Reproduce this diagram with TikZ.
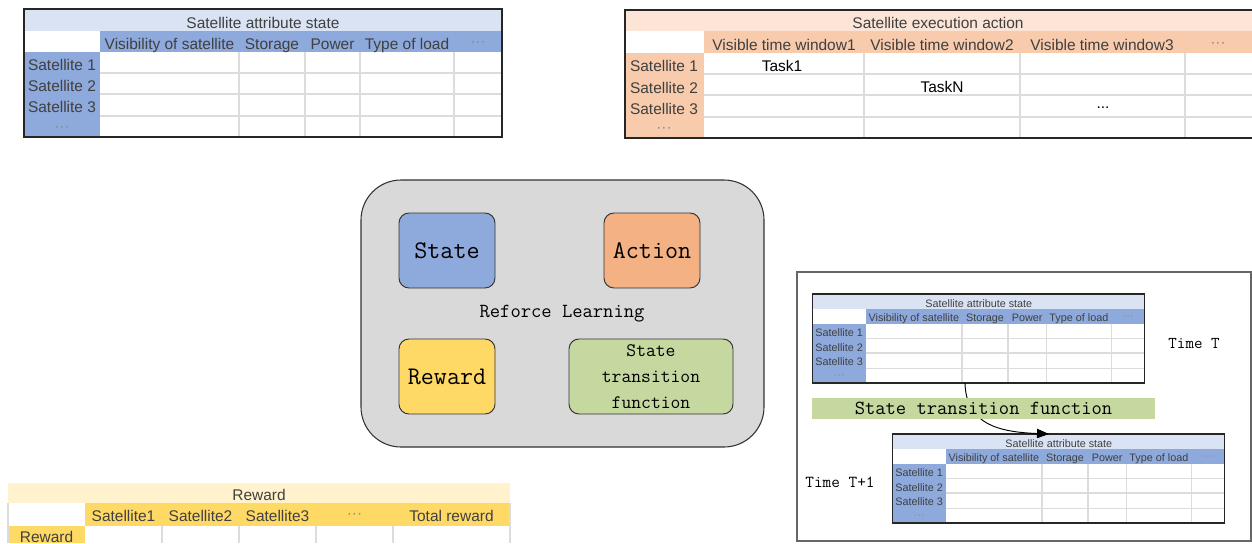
\documentclass[tikz,border=0pt]{standalone}
\usepackage{fontspec}
\setmainfont{Liberation Sans}
\newcommand\monof{\ttfamily}
\usetikzlibrary{arrows.meta}
\definecolor{attrtitle}{HTML}{DAE3F3}
\definecolor{attrhead}{HTML}{8EA9DB}
\definecolor{acttitle}{HTML}{FCE4D6}
\definecolor{acthead}{HTML}{F8CBAD}
\definecolor{actbox}{HTML}{F4B183}
\definecolor{rewtitle}{HTML}{FFF2CC}
\definecolor{rewhead}{HTML}{FFD966}
\definecolor{greenbox}{RGB}{197,216,160}
\definecolor{rlgray}{HTML}{D9D9D9}
\definecolor{gridgray}{HTML}{DCDCDC}
\definecolor{tabtext}{HTML}{404040}
\tikzset{
  gridline/.style={draw=gridgray,line width=1.1pt},
  tabborder/.style={draw=black!85,line width=0.8pt},
  celltext/.style={text=tabtext,inner sep=0pt,anchor=center,text height=0.716em,text depth=0pt},
  rlbox/.style={draw=black!80,line width=0.7pt,rounded corners=7.5pt},
  mono/.style={font=\monof,inner sep=0pt,anchor=center},
}
% attribute table drawn in local pixel units (478 x 128)
\newcommand\attrtable[3]{%
  \begin{scope}[shift={#1},scale=#2,every node/.append style={celltext,#3}]
    \fill[attrtitle] (0,0) rectangle (478,22);
    \fill[attrhead] (76,22) rectangle (478,43);
    \fill[attrhead] (0,43) rectangle (76,128);
    \foreach \xx in {215,281,336,430} \draw[gridline] (\xx,43) -- (\xx,128);
    \foreach \yy in {64,85,107} \draw[gridline] (76,\yy) -- (478,\yy);
    \draw[tabborder] (0,0) rectangle (478,128);
    \node at (239,12) {Satellite attribute state};
    \node at (145.5,33) {Visibility of satellite};
    \node at (248,33) {Storage};
    \node at (308.5,33) {Power};
    \node at (383,33) {Type of load};
    \node[text=black!45] at (454,30) {···};
    \node at (38,54.5) {Satellite 1};
    \node at (38,75.5) {Satellite 2};
    \node at (38,96.5) {Satellite 3};
    \node[text=black!45] at (38,115) {···};
  \end{scope}}
\begin{document}
\begin{tikzpicture}[x=0.75pt,y=-0.75pt]
\useasboundingbox (0,0) rectangle (1252,543);
\fill[white] (0,0) rectangle (1252,543);

% ---------- Table 1: satellite attribute state ----------
\attrtable{(24,9)}{1}{font=\fontsize{11.6}{13}\selectfont,yshift=-1.9pt}

% ---------- Table 2: satellite execution action ----------
\fill[acttitle] (625,10) rectangle (1252,31);
\fill[acthead] (704,31) rectangle (1252,53);
\fill[acthead] (625,53) rectangle (704,138);
\foreach \xx in {864,1020,1185} \draw[gridline] (\xx,53) -- (\xx,138);
\foreach \yy in {74,95,117} \draw[gridline] (704,\yy) -- (1252,\yy);
\draw[tabborder] (1252,10) -- (625,10) -- (625,138) -- (1252,138);
\begin{scope}[every node/.style={celltext,font=\fontsize{11.6}{13}\selectfont,yshift=-1.9pt}]
\node (acttitle) at (938,21) {Satellite execution action};
\node (w1) at (784,43) {Visible time window1};
\node (w2) at (942,43) {Visible time window2};
\node (w3) at (1102,43) {Visible time window3};
\node[text=black!45] (w4) at (1218,40) {···};
\node (s1) at (664,64.5) {Satellite 1};
\node (s2) at (664,86) {Satellite 2};
\node (s3) at (664,107) {Satellite 3};
\node[text=black!45] (s4) at (664,125) {···};
\node[text=black] (t1) at (782,64) {Task1};
\node[text=black] (tn) at (942,85) {TaskN};
\node[text=black] (td) at (1103,101) {...};
\end{scope}

% ---------- Reinforcement learning block ----------
\draw[fill=rlgray,draw=black!80,line width=0.8pt,rounded corners=30pt] (361,180) rectangle (764,447);
\node[rlbox,fill=attrhead,minimum width=72pt,minimum height=56.25pt,font=\monof\fontsize{19}{21}\selectfont,inner sep=0pt] (state) at (447,250.5) {State};
\node[rlbox,fill=actbox,minimum width=72pt,minimum height=56.25pt,font=\monof\fontsize{19}{21}\selectfont,inner sep=0pt] (action) at (652,250.5) {Action};
\node[rlbox,fill=rewhead,minimum width=72pt,minimum height=56.25pt,font=\monof\fontsize{19}{21}\selectfont,inner sep=0pt] (reward) at (447,376.5) {Reward};
\node[rlbox,fill=greenbox,minimum width=123pt,minimum height=56.25pt,align=center,font=\monof\fontsize{14.3}{19.5}\selectfont,inner sep=0pt] (stf) at (651,376.5) {State\\transition\\function};
\node[mono,font=\monof\fontsize{15}{17}\selectfont] (rl) at (562,314) {Reforce Learning};

% ---------- Reward table ----------
\fill[rewtitle] (8,483) rectangle (510,503);
\fill[rewhead] (85,503) rectangle (510,526);
\fill[rewhead] (8,526) rectangle (85,543);
\foreach \xx in {162,239,316,393} \draw[gridline] (\xx,526) -- (\xx,543);
\draw[gridline] (8,503) -- (8,543);
\draw[gridline] (510,503) -- (510,543);
\begin{scope}[every node/.style={celltext,font=\fontsize{11.6}{13}\selectfont,yshift=-1.5pt}]
\node (rtitle) at (259,493.5) {Reward};
\node (r1) at (123.5,515) {Satellite1};
\node (r2) at (200.5,515) {Satellite2};
\node (r3) at (277.5,515) {Satellite3};
\node[text=black!45] (r4) at (354.5,512) {···};
\node (r5) at (451.5,515) {Total reward};
\node (rr) at (46.5,536) {Reward};
\end{scope}

% ---------- State transition panel ----------
\draw[draw=black!60,line width=0.8pt] (797,272) rectangle (1251,541);
\attrtable{(812.7,294)}{0.695}{font=\fontsize{8.1}{9}\selectfont}
\attrtable{(892.7,434)}{0.695}{font=\fontsize{8.1}{9}\selectfont}
\coordinate (tabTbot) at (965,383);
\coordinate (tabT1top) at (1049,434);
\draw[-{Triangle[length=9pt,width=7pt]},line width=0.7pt] (tabTbot) .. controls (966,425) and (1000,432) .. (tabT1top);
\fill[greenbox] (812,398) rectangle (1155,419);
\node[mono,font=\monof\fontsize{15}{17}\selectfont] (stfbar) at (983.5,408.5) {State transition function};
\node[mono,font=\monof\fontsize{12.4}{14}\selectfont] (timeT) at (1194,343) {Time T};
\node[mono,font=\monof\fontsize{12.6}{14}\selectfont] (timeT1) at (840,482) {Time T+1};
\end{tikzpicture}
\end{document}
